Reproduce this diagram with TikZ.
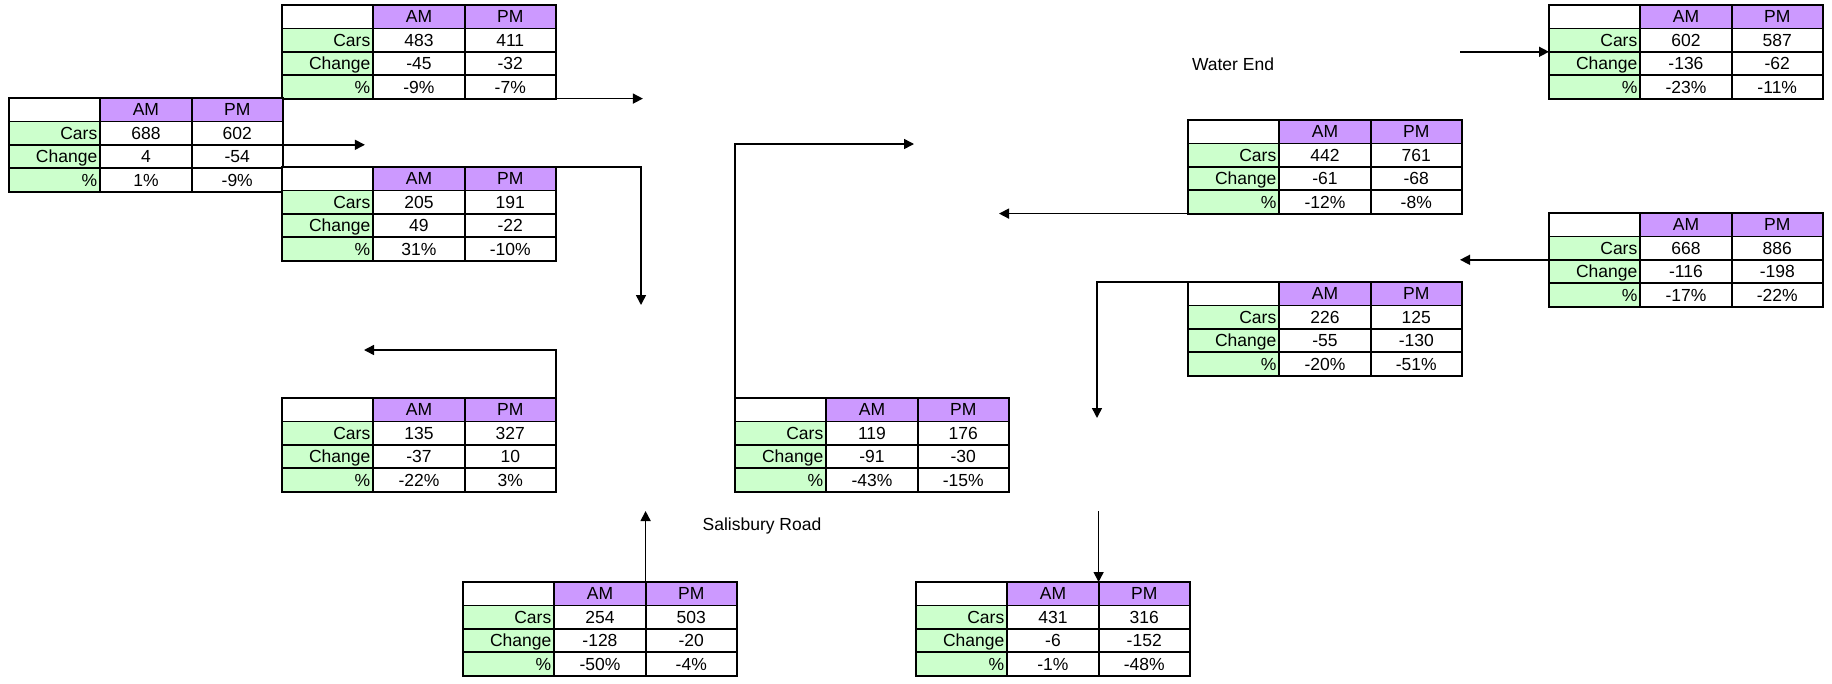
\documentclass[tikz,border=0pt]{standalone}
\usepackage{fontspec}
\setmainfont{Liberation Sans}
\usetikzlibrary{arrows.meta,calc}
\definecolor{hdrpurple}{HTML}{CC99FF}
\definecolor{labgreen}{HTML}{CCFFCC}
\newcommand{\tabfont}{\fontsize{17.5pt}{20pt}\selectfont}
\tikzset{
  cell/.style={rectangle, draw=black, line width=1.8pt, minimum width=91.3pt,
    minimum height=23.4pt, inner sep=0pt, outer sep=0pt, text height=14pt,
    text depth=1.8pt, font=\tabfont},
  blankcell/.style={cell, fill=white},
  hdrcell/.style={cell, fill=hdrpurple},
  labcell/.style={cell, fill=labgreen, text width=85.3pt, align=right, inner xsep=3pt},
  valcell/.style={cell, fill=white},
  conn/.style={draw=black, line width=1.5pt, -{Triangle[length=10pt,width=10pt]}},
  roadlabel/.style={font=\tabfont, inner sep=0pt}
}
% #1 name, #2 top-left x,y, #3..#8 values
\newcommand{\trtable}[8]{%
  \begin{scope}[shift={(#2)}]
    \node[blankcell] (#1-00) at (45.65,11.7) {};
    \node[hdrcell]   (#1-01) at (136.95,11.7) {AM};
    \node[hdrcell]   (#1-02) at (228.25,11.7) {PM};
    \node[labcell]   (#1-10) at (45.65,35.1) {Cars};
    \node[valcell]   (#1-11) at (136.95,35.1) {#3};
    \node[valcell]   (#1-12) at (228.25,35.1) {#4};
    \node[labcell]   (#1-20) at (45.65,58.5) {Change};
    \node[valcell]   (#1-21) at (136.95,58.5) {#5};
    \node[valcell]   (#1-22) at (228.25,58.5) {#6};
    \node[labcell]   (#1-30) at (45.65,81.9) {\%};
    \node[valcell]   (#1-31) at (136.95,81.9) {#7};
    \node[valcell]   (#1-32) at (228.25,81.9) {#8};
  \end{scope}}
\begin{document}
\begin{tikzpicture}[x=1pt,y=-1pt]
\fill[white] (0,0) rectangle (1832,683);
\useasboundingbox (0,0) rectangle (1832,683);

\trtable{T1}{282,5}{483}{411}{-45}{-32}{-9\%}{-7\%}
\trtable{T2}{9,98}{688}{602}{4}{-54}{1\%}{-9\%}
\trtable{T3}{282,167}{205}{191}{49}{-22}{31\%}{-10\%}
\trtable{T4}{282,398}{135}{327}{-37}{10}{-22\%}{3\%}
\trtable{T5}{735,398}{119}{176}{-91}{-30}{-43\%}{-15\%}
\trtable{T6}{463,582}{254}{503}{-128}{-20}{-50\%}{-4\%}
\trtable{T7}{916,582}{431}{316}{-6}{-152}{-1\%}{-48\%}
\trtable{T8}{1188,120}{442}{761}{-61}{-68}{-12\%}{-8\%}
\trtable{T9}{1188,282}{226}{125}{-55}{-130}{-20\%}{-51\%}
\trtable{T10}{1549,5}{602}{587}{-136}{-62}{-23\%}{-11\%}
\trtable{T11}{1549,213}{668}{886}{-116}{-198}{-17\%}{-22\%}

\node[roadlabel] (we) at (1233,64) {Water End};
\node[roadlabel] (sr) at (762,526) {Salisbury Road};

\coordinate (a1) at ($(T1-32.south east)+(87,0)$);
\coordinate (a2) at ($(T2-12.south east)+(82,0)$);
\coordinate (a3) at (641,305);
\coordinate (a4) at (364,350);
\coordinate (a5) at (914,144);
\coordinate (a6) at ($(T6-01.north east)+(0,-71)$);
\coordinate (a7) at ($(T7-01.north east)+(0,-71)$);
\coordinate (a8) at ($(T8-30.south west)+(-189,0)$);
\coordinate (a9) at (1097,418);
\coordinate (a10) at ($(T10-10.south west)+(-89,0)$);
\coordinate (a11) at ($(T11-10.south west)+(-89,0)$);

\draw[conn] (T1-32.south east) -- (a1);
\draw[conn] (T2-12.south east) -- (a2);
\draw[conn] (T3-02.north east) -| (a3);
\draw[conn] (T4-02.north east) |- (a4);
\draw[conn] (T5-00.north west) |- (a5);
\draw[conn] (T6-01.north east) -- (a6);
\draw[conn] (a7) -- (T7-01.north east);
\draw[conn] (T8-30.south west) -- (a8);
\draw[conn] (T9-01.north east) -| (a9);
\draw[conn] (a10) -- (T10-10.south west);
\draw[conn] (T11-10.south west) -- (a11);
\end{tikzpicture}
\end{document}
